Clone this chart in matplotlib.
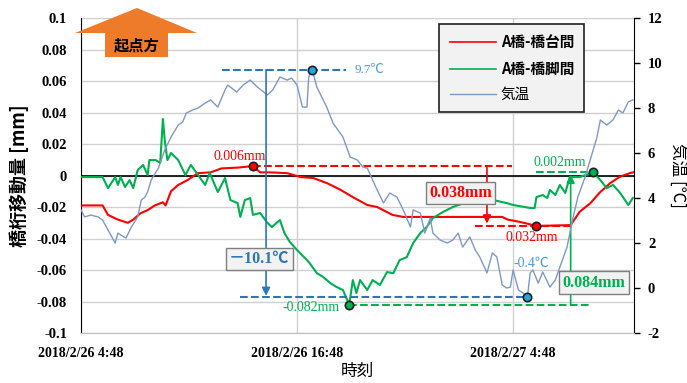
import matplotlib
matplotlib.use('Agg')
import matplotlib.pyplot as plt
from matplotlib.patches import Polygon
from matplotlib.lines import Line2D
import numpy as np

# hours after 2018/2/26 4:48
red_h = [0, 1.2, 1.5, 2.05, 2.6, 2.9, 3.3, 3.7, 4.1, 4.55, 4.7, 5.0, 5.4, 5.9, 6.5, 7.2, 7.8, 8.7,
         9.55, 9.95, 10.5, 11.45, 12.2, 12.9, 13.7, 14.4, 15.1, 15.9, 16.45, 17.3, 17.9, 23.4, 23.7,
         24.4, 25.3, 27.2, 27.7, 28.3, 28.8, 29.4, 29.9, 30.5, 30.7]
red_v = [-0.019, -0.019, -0.025, -0.028, -0.030, -0.028, -0.024, -0.022, -0.019, -0.017, -0.019,
         -0.010, -0.006, -0.003, 0.0015, 0.002, 0.0045, 0.005, 0.006, 0.002, 0.002, 0.0015, -0.001,
         -0.0016, -0.005, -0.009, -0.0137, -0.0187, -0.020, -0.025, -0.0263, -0.0263, -0.028,
         -0.0295, -0.032, -0.0315, -0.023, -0.0175, -0.011, -0.0048, -0.001, 0.0016, 0.002]

green_h = [0, 1.2, 1.5, 1.9, 2.05, 2.2, 2.45, 2.7, 2.9, 3.15, 3.45, 3.7, 3.8, 4.15, 4.4, 4.55, 4.65,
           4.8, 5.0, 5.4, 5.8, 6.1, 6.5, 6.9, 7.15, 7.6, 8.0, 8.3, 8.7, 8.85, 9.1, 9.4, 9.55, 9.95,
           10.35, 10.6, 11.05, 11.3, 11.6, 12.0, 12.55, 12.7, 13.1, 13.45, 13.85, 14.2, 14.55, 14.9,
           15.1, 15.3, 15.5, 15.9, 16.2, 16.6, 17.0, 17.35, 17.7, 18.1, 18.45, 18.85, 19.2, 19.55,
           20.1, 20.65, 21.45, 22.15, 22.9, 23.65, 24.0, 24.95, 25.2, 25.3, 25.65, 25.9, 26.05,
           26.35, 26.6, 26.9, 27.15, 27.7, 28.45, 28.85, 29.2, 29.55, 29.95, 30.4, 30.65]
green_v = [-0.001, -0.001, -0.008, -0.001, -0.006, -0.001, -0.0073, -0.0029, -0.008, 0.0035, 0.0067,
           0.0003, 0.0098, 0.0098, 0.008, 0.0359, 0.0225, 0.0098, 0.0143, 0.0098, 0.0003, 0.0067,
           0.0003, -0.006, 0.0016, -0.0105, -0.0016, -0.0156, -0.0175, -0.0263, -0.0156, -0.0143,
           -0.025, -0.0238, -0.030, -0.0327, -0.0283, -0.0365, -0.0422, -0.0473, -0.0537, -0.0556,
           -0.062, -0.0644, -0.0683, -0.0708, -0.0727, -0.082, -0.0664, -0.0746, -0.0664, -0.0727,
           -0.0664, -0.0695, -0.0613, -0.062, -0.0537, -0.0518, -0.0429, -0.0365, -0.0327, -0.027,
           -0.0232, -0.020, -0.0168, -0.0156, -0.0156, -0.0175, -0.0187, -0.0206, -0.0206, -0.0137,
           -0.0124, -0.0143, -0.0092, -0.0124, -0.006, -0.0111, -0.001, -0.001, 0.002, -0.0029,
           -0.008, -0.006, -0.0111, -0.0187, -0.0143]

temp_h = [0, 0.2, 0.55, 0.95, 1.2, 1.5, 1.9, 2.05, 2.2, 2.5, 2.8, 3.15, 3.35, 3.55, 3.7, 3.9, 4.3,
          4.65, 5.0, 5.4, 5.65, 5.85, 6.2, 6.5, 6.9, 7.2, 7.6, 8.0, 8.15, 8.65, 9.0, 9.4, 9.8, 10.35,
          10.65, 11.05, 11.45, 11.7, 12.0, 12.3, 12.55, 12.65, 12.85, 13.1, 13.65, 14.0, 14.55, 14.95,
          15.35, 15.65, 15.9, 16.2, 16.45, 16.8, 17.15, 17.55, 17.9, 18.3, 18.45, 18.85, 19.1, 19.4,
          19.55, 19.95, 20.35, 20.65, 20.95, 21.2, 21.6, 21.9, 22.15, 22.55, 22.85, 23.1, 23.4, 23.65,
          23.85, 24.0, 24.3, 24.55, 24.8, 24.95, 25.1, 25.4, 25.65, 26.05, 26.35, 26.6, 27.0, 27.3,
          27.6, 28.0, 28.4, 28.65, 28.85, 29.2, 29.55, 29.85, 30.1, 30.4, 30.65]
temp_v = [3.47, 3.16, 3.24, 3.16, 3.02, 2.58, 2.0, 2.44, 2.36, 2.22, 2.71, 3.16, 3.91, 4.04, 4.27,
          4.8, 5.33, 6.13, 6.71, 7.24, 7.38, 7.78, 7.91, 8.0, 8.22, 8.36, 8.04, 8.8, 9.02, 8.71, 9.02,
          9.24, 8.93, 8.58, 8.8, 9.38, 9.24, 9.33, 9.02, 8.04, 8.04, 9.38, 9.7, 8.93, 8.04, 7.33,
          6.71, 5.82, 5.69, 5.38, 5.33, 4.8, 4.36, 3.78, 4.22, 4.04, 3.47, 2.71, 3.47, 3.33, 2.44,
          3.11, 2.44, 2.13, 2.0, 2.13, 2.44, 1.82, 2.27, 1.69, 1.38, 0.67, 1.56, 1.38, 0.13, 0.0,
          0.04, 0.8, -0.09, -0.22, -0.4, 0.67, 0.8, 0.22, 0.71, 0.04, 0.36, 0.93, 1.82, 3.02, 4.04,
          4.93, 6.0, 6.67, 7.47, 7.24, 7.47, 7.91, 7.78, 8.27, 8.36]

x_ticks = [0, 12, 24]
x_labels = ['2018/2/26 4:48', '2018/2/26 16:48', '2018/2/27 4:48']
y_ticks = [0.1, 0.08, 0.06, 0.04, 0.02, 0, -0.02, -0.04, -0.06, -0.08, -0.1]
y_labels = ['0.1', '0.08', '0.06', '0.04', '0.02', '0', '-0.02', '-0.04', '-0.06', '-0.08', '-0.1']
t_ticks = [12, 10, 8, 6, 4, 2, 0, -2]

RED = '#ff0000'
GREEN = '#00b050'
TEMP = '#7f98c4'
BLUE = '#2e75b6'
CJK = ['Noto Sans CJK JP', 'DejaVu Sans']
SERIF = ['Liberation Serif', 'Noto Sans CJK JP', 'DejaVu Sans']

fig = plt.figure(figsize=(6.87, 3.83), dpi=100)
ax = fig.add_axes([0.1179, 0.1305, 0.805, 0.8225])
ax2 = ax.twinx()

red_h, red_v = np.array(red_h), np.array(red_v)
green_h, green_v = np.array(green_h), np.array(green_v)
temp_h, temp_v = np.array(temp_h), np.array(temp_v)

ax.plot(red_h, red_v, color=RED, lw=1.5, zorder=3)
ax.plot(green_h, green_v, color=GREEN, lw=1.5, zorder=3)
ax2.plot(temp_h, temp_v, color=TEMP, lw=1.0, zorder=2)

ax.set_xlim(0, 30.72)
ax.set_ylim(-0.1, 0.1)
ax2.set_ylim(-2, 12)

ax.set_yticks(y_ticks)
ax.set_yticklabels(y_labels, family=SERIF, fontweight='bold', fontsize=10.5)
ax.set_xticks(x_ticks)
ax.set_xticklabels(x_labels, family=SERIF, fontweight='bold', fontsize=10)
ax.tick_params(axis='both', length=0, pad=10)
ax2.set_yticks(t_ticks)
ax2.set_yticklabels([str(t) for t in t_ticks], family=SERIF, fontweight='bold', fontsize=10.5)
ax2.tick_params(axis='y', length=4, width=1, pad=6, direction='out')

ax.grid(True, color='#d0d0d0', lw=1)
ax.set_axisbelow(True)
ax.axhline(0, color='black', lw=1.2, zorder=2)
for s in ['top']:
    ax.spines[s].set_visible(False)
    ax2.spines[s].set_visible(False)
ax.spines['bottom'].set_color('#c0c0c0')
ax2.spines['bottom'].set_color('#c0c0c0')
ax.spines['left'].set_color('black')
ax2.spines['left'].set_visible(False)
ax2.spines['right'].set_color('black')
ax.spines['right'].set_visible(False)

ax.set_ylabel('橋桁移動量 [mm]', family=CJK, fontsize=13, fontweight='bold', labelpad=6)
ax.set_xlabel('時刻', family=CJK, fontsize=12, labelpad=2)
ax2.set_ylabel('気温 [℃]', family=CJK, fontsize=12, rotation=270, labelpad=16)

# extreme markers
i_rmax = np.argmax(np.where(red_h < 15, red_v, -1))
i_rmin = np.argmin(np.where(red_h > 20, red_v, 1))
i_gmin = np.argmin(green_v)
i_gmax = np.argmax(np.where(green_h > 20, green_v, -1))
i_tmax = np.argmax(temp_v)
i_tmin = np.argmin(temp_v)

mk = dict(marker='o', ms=6, mec='#202020', mew=1.2, zorder=6, ls='none')

# temperature annotations (blue)
ax2.plot([7.83, 14.7], [temp_v[i_tmax]] * 2, ls='--', color=BLUE, lw=1.5, zorder=4)
ax2.plot([8.83, 24.83], [temp_v[i_tmin]] * 2, ls='--', color=BLUE, lw=1.5, zorder=4)
ax2.annotate('', xy=(10.28, temp_v[i_tmin] + 0.05), xytext=(10.28, temp_v[i_tmax]),
             arrowprops=dict(arrowstyle='-|>', color=BLUE, lw=1.2, mutation_scale=12,
                             shrinkA=0, shrinkB=0), zorder=4)
ax2.plot(temp_h[i_tmax], temp_v[i_tmax], color='#20a8e0', **mk)
ax2.plot(temp_h[i_tmin], temp_v[i_tmin], color='#20a8e0', **mk)
ax2.text(15.2, temp_v[i_tmax], f'{temp_v[i_tmax]}℃', color='#4a9ad8', family=SERIF,
         fontsize=9.5, va='center', ha='left')
ax2.text(25.0, 1.1, f'{temp_v[i_tmin]}℃', color='#4a9ad8', family=SERIF,
         fontsize=10, va='center', ha='center')
ax2.text(9.9, 1.29, '－10.1℃', color=BLUE, family=SERIF, fontsize=11.5, fontweight='bold',
         va='center', ha='center', zorder=7,
         bbox=dict(boxstyle='square,pad=0.2', fc='#f2f2f2', ec='#7f7f7f', lw=1))

# red annotations
ax.plot([9.55, 23.95], [red_v[i_rmax]] * 2, ls='--', color=RED, lw=1.5, zorder=4)
ax.plot([21.9, 27.2], [red_v[i_rmin]] * 2, ls='--', color=RED, lw=1.5, zorder=4)
ax.annotate('', xy=(22.55, -0.0305), xytext=(22.55, red_v[i_rmax]),
            arrowprops=dict(arrowstyle='-|>', color=RED, lw=1.2, mutation_scale=12,
                            shrinkA=0, shrinkB=0), zorder=4)
ax.plot(red_h[i_rmax], red_v[i_rmax], color=RED, **mk)
ax.plot(red_h[i_rmin], red_v[i_rmin], color=RED, **mk)
ax.text(8.8, 0.0118, '0.006mm', color=RED, family=SERIF, fontsize=10, ha='center', va='center')
ax.text(25.05, -0.0395, '0.032mm', color=RED, family=SERIF, fontsize=10, ha='center', va='center')
ax.text(21.1, -0.0111, '0.038mm', color=RED, family=SERIF, fontsize=11.5, fontweight='bold',
        ha='center', va='center', zorder=7,
        bbox=dict(boxstyle='square,pad=0.2', fc='#f2f2f2', ec='#7f7f7f', lw=1))

# green annotations
ax.plot([14.9, 28.3], [green_v[i_gmin]] * 2, ls='--', color=GREEN, lw=1.5, zorder=4)
ax.plot([25.3, 28.45], [green_v[i_gmax]] * 2, ls='--', color=GREEN, lw=1.5, zorder=4)
ax.annotate('', xy=(27.2, 0.0005), xytext=(27.2, green_v[i_gmin]),
            arrowprops=dict(arrowstyle='-|>', color=GREEN, lw=1.2, mutation_scale=12,
                            shrinkA=0, shrinkB=0), zorder=4)
ax.plot(green_h[i_gmin], green_v[i_gmin], color=GREEN, **mk)
ax.plot(green_h[i_gmax], green_v[i_gmax], color=GREEN, **mk)
ax.text(12.8, -0.0835, '-0.082mm', color=GREEN, family=SERIF, fontsize=10, ha='center', va='center')
ax.text(26.6, 0.0083, '0.002mm', color=GREEN, family=SERIF, fontsize=10, ha='center', va='center')
ax.text(28.5, -0.068, '0.084mm', color=GREEN, family=SERIF, fontsize=11.5, fontweight='bold',
        ha='center', va='center', zorder=7,
        bbox=dict(boxstyle='square,pad=0.2', fc='#f2f2f2', ec='#7f7f7f', lw=1))

# legend
handles = [Line2D([], [], color=RED, lw=1.2), Line2D([], [], color=GREEN, lw=1.2),
           Line2D([], [], color=TEMP, lw=1.0)]
leg = ax2.legend(handles, ['A橋-橋台間', 'A橋-橋脚間', '気温'], loc='upper left',
                 bbox_to_anchor=(0.635, 1.005), frameon=True, fancybox=False,
                 edgecolor='#202020', facecolor='#f2f2f2', framealpha=1,
                 handlelength=3.2, handletextpad=0.3, labelspacing=0.75, borderpad=0.7,
                 prop=dict(family=CJK, size=10.5, weight='bold'))
leg.get_frame().set_linewidth(1.2)
leg.get_texts()[2].set_fontweight('normal')

# start-point arrow
W, H = 687.0, 383.0
pts = [(137, 8), (197, 33), (168, 33), (168, 57), (105, 57), (105, 33), (75, 33)]
poly = Polygon([(px / W, 1 - py / H) for px, py in pts], closed=True, fc='#ee7b2a', ec='none',
               transform=fig.transFigure)
fig.add_artist(poly)
fig.text(137 / W, 1 - 45 / H, '起点方', family=CJK, fontsize=11, fontweight='bold',
         ha='center', va='center', color='black')

fig.savefig('out.png', dpi=100)
